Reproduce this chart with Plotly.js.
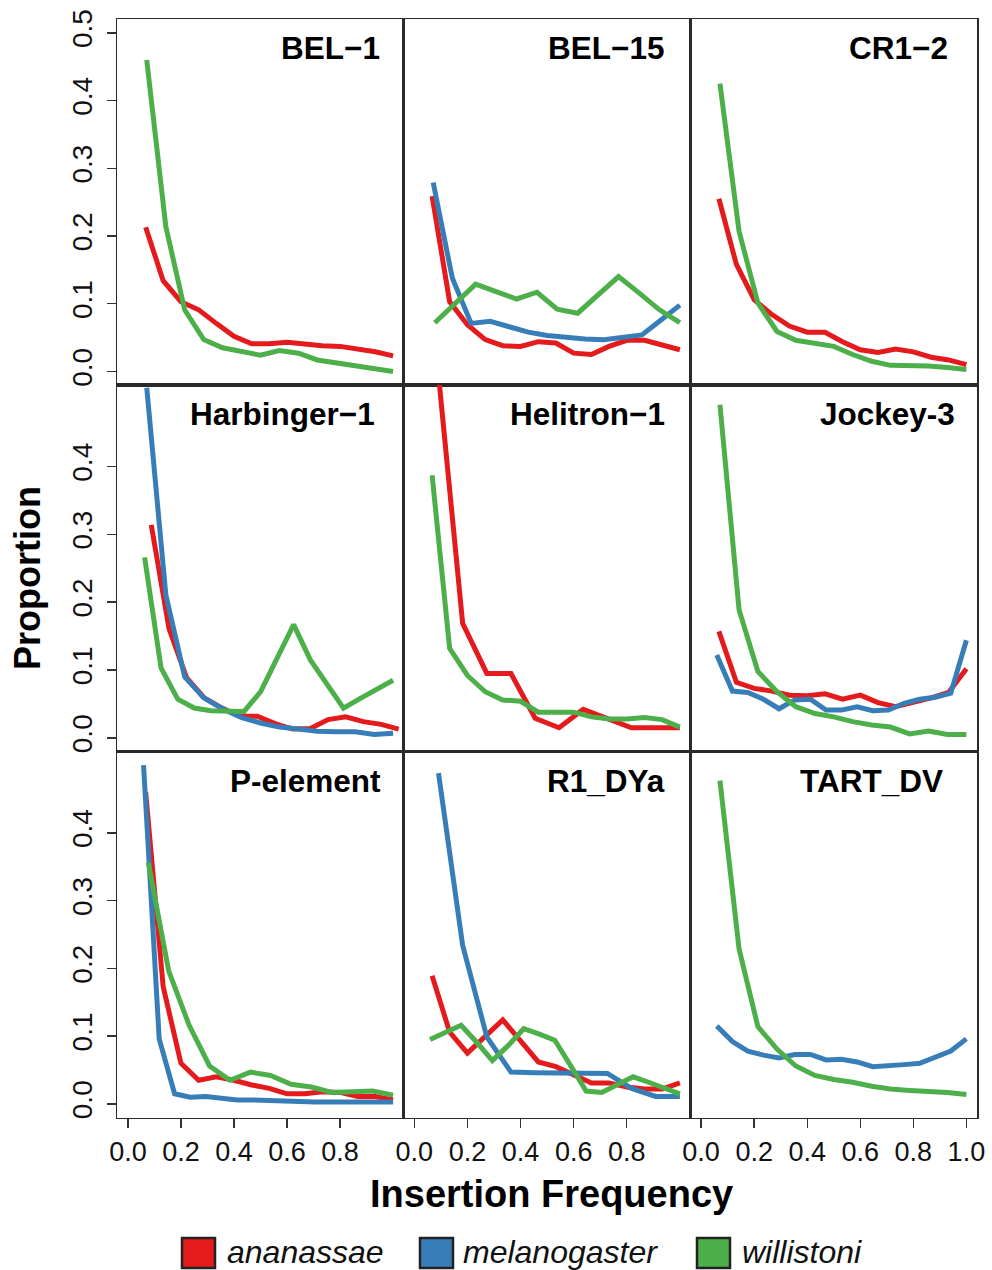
<!DOCTYPE html>
<html><head><meta charset="utf-8">
<script src="https://cdn.plot.ly/plotly-3.0.1.min.js"></script>
<style>html,body{margin:0;padding:0;background:#fff}#chart{width:992px;height:1270px}</style>
</head><body><div id="chart"></div>
<script>
// ---------- data ----------
const panelNames = ["BEL\u22121","BEL\u221215","CR1\u22122","Harbinger\u22121","Helitron\u22121","Jockey-3","P-element","R1_DYa","TART_DV"];
const speciesNames = ["ananassae","melanogaster","willistoni"];
const speciesColors = ["#E41A1C","#377EB8","#4DAF4A"];

// insertion-frequency grids
const x11 = [0.091,0.182,0.273,0.364,0.455,0.545,0.636,0.727,0.818,0.909,1.0];
const x13 = [0.077,0.154,0.231,0.308,0.385,0.462,0.538,0.615,0.692,0.769,0.846,0.923,1.0];
const x14 = [0.071,0.143,0.214,0.286,0.357,0.429,0.5,0.571,0.643,0.714,0.786,0.857,0.929,1.0];
const x15 = [0.067,0.133,0.2,0.267,0.333,0.4,0.467,0.533,0.6,0.667,0.733,0.8,0.867,0.933,1.0];
const x16 = [0.063,0.125,0.188,0.25,0.313,0.375,0.438,0.5,0.563,0.625,0.688,0.75,0.813,0.875,0.938,1.0];
const x17 = [0.059,0.118,0.176,0.235,0.294,0.353,0.412,0.471,0.529,0.588,0.647,0.706,0.765,0.824,0.882,0.941,1.0];
const harbAnaX = [0.088,0.155,0.221,0.288,0.355,0.421,0.488,0.555,0.621,0.688,0.755,0.821,0.888,0.955,1.021];

// proportions
const bel1Ana = [0.213,0.134,0.103,0.091,0.071,0.052,0.041,0.041,0.043,0.040,0.038,0.037,0.033,0.029,0.023];
const bel1Wil = [0.46,0.214,0.091,0.047,0.035,0.030,0.024,0.031,0.027,0.017,0.013,0.008,0.004,0.0];

const bel15Ana = [0.259,0.103,0.069,0.047,0.038,0.037,0.044,0.042,0.027,0.025,0.037,0.046,0.046,0.040,0.032];
const bel15Mel = [0.279,0.138,0.071,0.074,0.066,0.058,0.053,0.050,0.048,0.047,0.051,0.054,0.076,0.098];
const bel15Wil = [0.072,0.101,0.129,0.118,0.107,0.117,0.092,0.086,0.113,0.140,0.116,0.091,0.072];

const cr12Ana = [0.255,0.158,0.106,0.084,0.067,0.058,0.058,0.044,0.032,0.028,0.033,0.029,0.021,0.017,0.010];
const cr12Wil = [0.425,0.207,0.101,0.059,0.046,0.042,0.037,0.025,0.015,0.009,0.009,0.008,0.006,0.003];

const harbAna = [0.314,0.161,0.089,0.059,0.044,0.032,0.032,0.021,0.013,0.014,0.027,0.031,0.024,0.020,0.013];
const harbMel = [0.516,0.211,0.090,0.059,0.043,0.030,0.022,0.016,0.013,0.010,0.009,0.009,0.005,0.007];
const harbWil = [0.266,0.103,0.057,0.044,0.040,0.039,0.039,0.068,0.118,0.167,0.115,0.080,0.044,0.058,0.071,0.085];

const heliAna = [0.535,0.169,0.095,0.095,0.029,0.015,0.042,0.029,0.015,0.015,0.015];
const heliWil = [0.387,0.132,0.092,0.068,0.056,0.054,0.038,0.038,0.038,0.031,0.028,0.028,0.030,0.027,0.016];

const jockAna = [0.157,0.082,0.073,0.069,0.063,0.062,0.065,0.057,0.063,0.052,0.046,0.052,0.059,0.067,0.102];
const jockMel = [0.122,0.069,0.067,0.057,0.043,0.056,0.057,0.041,0.041,0.046,0.040,0.041,0.051,0.057,0.060,0.066,0.144];
const jockWil = [0.491,0.189,0.098,0.068,0.046,0.036,0.031,0.024,0.019,0.016,0.006,0.010,0.005,0.005];

const pelAna = [0.46,0.173,0.060,0.035,0.040,0.035,0.028,0.023,0.015,0.015,0.018,0.017,0.011,0.011,0.006];
const pelMel = [0.500,0.096,0.015,0.010,0.011,0.008,0.006,0.006,0.005,0.004,0.004,0.003,0.003,0.003,0.003,0.003,0.003];
const pelWil = [0.356,0.196,0.116,0.056,0.035,0.047,0.042,0.029,0.025,0.017,0.018,0.019,0.013];

const r1Ana = [0.189,0.106,0.075,0.100,0.124,0.093,0.062,0.055,0.042,0.031,0.031,0.025,0.022,0.022,0.031];
const r1Mel = [0.488,0.234,0.099,0.047,0.046,0.046,0.045,0.045,0.023,0.011,0.011];
const r1Wil = [0.095,0.106,0.116,0.091,0.064,0.086,0.111,0.103,0.094,0.057,0.019,0.017,0.029,0.040,0.032,0.024,0.015];

const tartMel = [0.115,0.092,0.078,0.072,0.068,0.073,0.073,0.065,0.066,0.062,0.055,0.056,0.058,0.060,0.069,0.078,0.096];
const tartWil = [0.477,0.229,0.114,0.081,0.056,0.042,0.036,0.032,0.026,0.022,0.020,0.019,0.017,0.014];

const xTicks = [0,0.2,0.4,0.6,0.8,1.0];
const yTicks = [0,0.1,0.2,0.3,0.4,0.5];

// [panel, species, x, y]
const series = [
  [0,0,x15,bel1Ana],[0,2,x14,bel1Wil],
  [1,0,x15,bel15Ana],[1,1,x14,bel15Mel],[1,2,x13,bel15Wil],
  [2,0,x15,cr12Ana],[2,2,x14,cr12Wil],
  [3,0,harbAnaX,harbAna],[3,1,x14,harbMel],[3,2,x16,harbWil],
  [4,0,x11,heliAna],[4,2,x15,heliWil],
  [5,0,x15,jockAna],[5,1,x17,jockMel],[5,2,x14,jockWil],
  [6,0,x15,pelAna],[6,1,x17,pelMel],[6,2,x13,pelWil],
  [7,0,x15,r1Ana],[7,1,x11,r1Mel],[7,2,x17,r1Wil],
  [8,1,x17,tartMel],[8,2,x14,tartWil]
];

// ---------- layout ----------
const W = 992, H = 1270;
const px = v => v / W, py = v => 1 - v / H;
const colPx = [[117.3,403.7],[403.7,690.5],[690.5,977]];
const rowPx = [[19.3,385],[385,751.5],[751.5,1117.5]];
const FONT = "Liberation Sans, Arial, Helvetica, sans-serif";

const traces = series.map(([p,s,xs,ys]) => ({
  type:'scatter', mode:'lines', x:xs, y:ys,
  xaxis: p===0?'x':'x'+(p+1), yaxis: p===0?'y':'y'+(p+1),
  line:{color:speciesColors[s], width:5},
  name:speciesNames[s], showlegend:false, hoverinfo:'skip'
}));

const layout = {
  width:W, height:H, margin:{l:0,r:0,t:0,b:0},
  paper_bgcolor:'#fff', plot_bgcolor:'#fff', showlegend:false,
  font:{family:FONT, color:'#111'},
  annotations:[], shapes:[]
};

for (let p=0;p<9;p++){
  const r = Math.floor(p/3), c = p%3, n = p===0?'':String(p+1);
  const xv = c===2 ? xTicks : xTicks.slice(0,5);
  const yv = r===0 ? yTicks : yTicks.slice(0,5);
  layout['xaxis'+n] = {
    domain:[px(colPx[c][0]), px(colPx[c][1])], anchor:'y'+n,
    range:[-0.04,1.04], showgrid:false, zeroline:false,
    showline:true, mirror:true, linecolor:'#2a2a2a', linewidth:1.6,
    ticks: r===2?'outside':'', ticklen:9, tickwidth:1.4, tickcolor:'#333',
    tickvals:xv, ticktext:xv.map(v=>v.toFixed(1)),
    showticklabels: r===2, tickfont:{size:27, family:FONT, color:'#111'},
    ticklabelstandoff:0
  };
  layout['yaxis'+n] = {
    domain:[py(rowPx[r][1]), py(rowPx[r][0])], anchor:'x'+n,
    range:[-0.02,0.52], showgrid:false, zeroline:false,
    showline:true, mirror:true, linecolor:'#2a2a2a', linewidth:1.6,
    ticks: c===0?'outside':'', ticklen:9, tickwidth:1.4, tickcolor:'#333',
    tickvals:yv, ticktext:yv.map(v=>v.toFixed(1)), tickangle:-90,
    showticklabels: c===0, tickfont:{size:28, family:FONT, color:'#111'},
    ticklabelstandoff:4
  };
  // panel title, top-right
  const rightOff = [22,25,27,27,24,20,21,24,32][p];
  layout.annotations.push({
    xref:'paper', yref:'paper', x:px(colPx[c][1]-rightOff), y:py(rowPx[r][0]+29),
    xanchor:'right', yanchor:'middle', showarrow:false,
    text:'<b>'+panelNames[p]+'</b>', font:{size:31.5, family:FONT, color:'#000'}
  });
}

// axis titles
layout.annotations.push({
  xref:'paper', yref:'paper', x:px(27), y:py(578), xanchor:'center', yanchor:'middle',
  showarrow:false, textangle:-90, text:'<b>Proportion</b>', font:{size:36, family:FONT, color:'#000'}
});
layout.annotations.push({
  xref:'paper', yref:'paper', x:px(551), y:py(1194), xanchor:'center', yanchor:'middle',
  showarrow:false, text:'<b>Insertion Frequency</b>', font:{size:38, family:FONT, color:'#000'}
});

// legend
const legBox = [182, 420, 697];
const legText = [225, 461, 740];
for (let s=0;s<3;s++){
  layout.shapes.push({type:'rect', xref:'paper', yref:'paper',
    x0:px(legBox[s]), x1:px(legBox[s]+33), y0:py(1268), y1:py(1238),
    fillcolor:speciesColors[s], line:{color:'#222', width:2.5}});
  layout.annotations.push({xref:'paper', yref:'paper', x:px(legText[s]), y:py(1252),
    xanchor:'left', yanchor:'middle', showarrow:false,
    text:'<i>'+speciesNames[s]+'</i>', font:{size:32, family:FONT, color:'#111'}});
}

Plotly.newPlot('chart', traces, layout, {staticPlot:true, displayModeBar:false});
</script></body></html>
